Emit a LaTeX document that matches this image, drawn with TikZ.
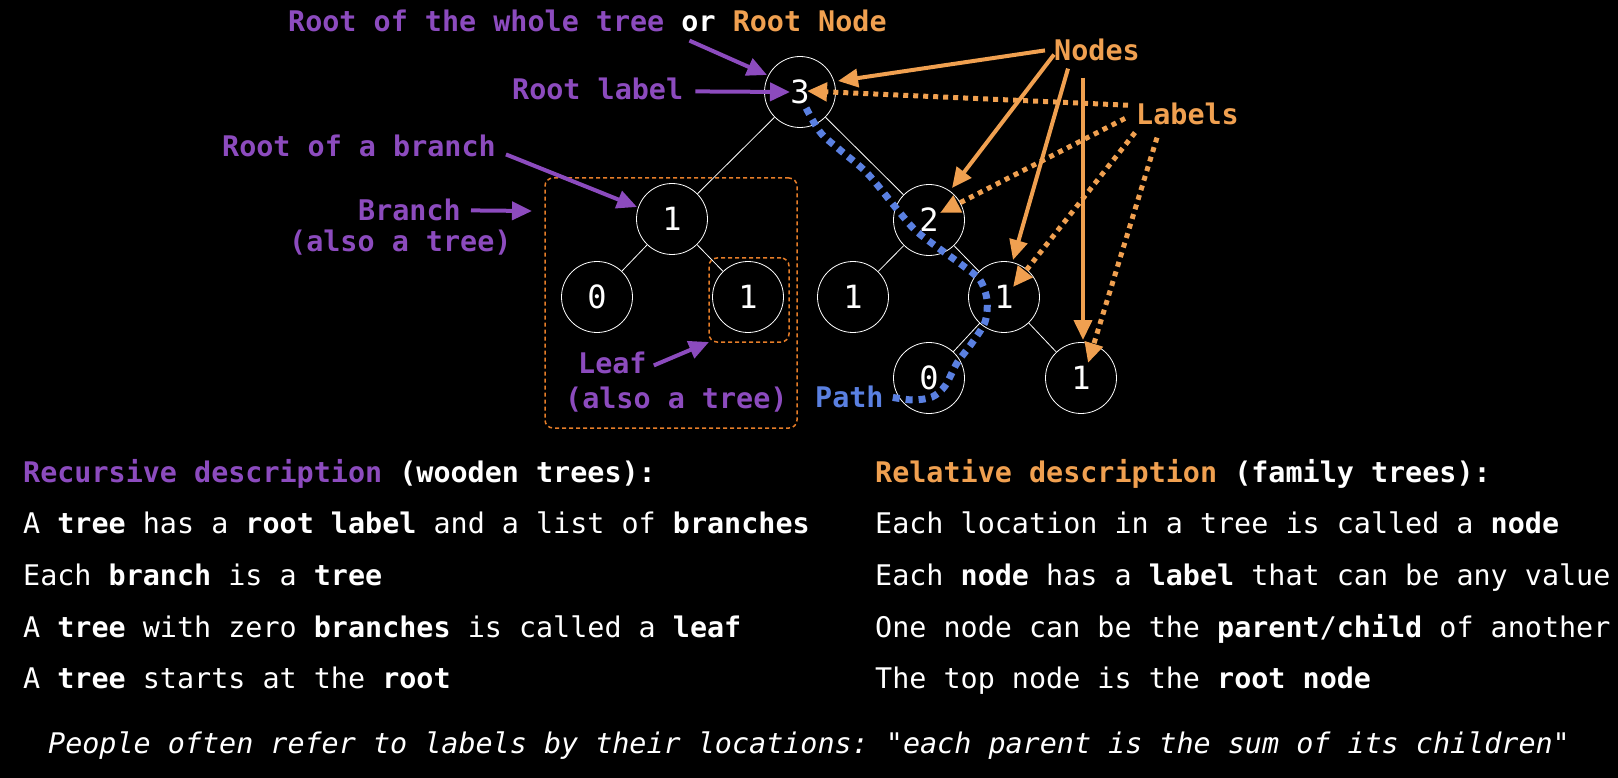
\documentclass[tikz,border=0pt]{standalone}
\usepackage{fontspec}
\setmonofont{DejaVu Sans Mono}
\usetikzlibrary{arrows.meta}
\definecolor{purp}{RGB}{140,75,190}
\definecolor{orng}{RGB}{240,160,80}
\definecolor{boxorng}{RGB}{230,125,40}
\definecolor{blu}{RGB}{90,128,225}
\tikzset{
  txt/.style={inner sep=0, text=white, anchor=base west,
    font=\ttfamily\fontsize{28.4}{34}\selectfont},
  tnode/.style={circle, draw=white, line width=0.8pt, minimum size=71pt,
    inner sep=0, text=white, font=\ttfamily\fontsize{32}{36}\selectfont},
  edge/.style={white, line width=0.8pt},
  parrow/.style={purp, line width=4pt, -{Triangle[length=20pt,width=18pt]}},
  narrow/.style={orng, line width=4pt, -{Triangle[length=20pt,width=18pt]}},
  larrow/.style={orng, line width=5pt, dash pattern=on 5pt off 5pt,
    -{Triangle[length=20pt,width=18pt]}},
  dbox/.style={draw=boxorng, line width=1.5pt, dash pattern=on 4pt off 3pt,
    rounded corners=8pt, inner sep=0, outer sep=0},
  pathline/.style={blu, line width=7pt, dash pattern=on 7pt off 6pt}
}
\begin{document}
\begin{tikzpicture}[x=1pt,y=-1pt]
\useasboundingbox (0,0) rectangle (1618,778);
\fill[black] (0,0) rectangle (1618,778);
%% the tree
\node[tnode] (r) at (800,92) {3};
\node[tnode] (b1) at (672,219) {1};
\node[tnode] (b10) at (597,297) {0};
\node[tnode] (b11) at (748,297) {1};
\node[tnode] (b2) at (929,220) {2};
\node[tnode] (b21) at (853,297) {1};
\node[tnode] (b22) at (1004,297) {1};
\node[tnode] (b220) at (929,378) {0};
\node[tnode] (b221) at (1081,378) {1};
\draw[edge] (r) -- (b1);
\draw[edge] (r) -- (b2);
\draw[edge] (b1) -- (b10);
\draw[edge] (b1) -- (b11);
\draw[edge] (b2) -- (b21);
\draw[edge] (b2) -- (b22);
\draw[edge] (b22) -- (b220);
\draw[edge] (b22) -- (b221);
%% dashed boxes
\node[dbox, minimum width=252pt, minimum height=250pt] (brbox) at (671,303) {};
\node[dbox, minimum width=80pt, minimum height=84pt] (leafbox) at (749,300) {};
%% purple labels
\node[txt, font=\ttfamily\bfseries\fontsize{28.4}{34}\selectfont] (title) at (288,32)
  {{\color{purp}Root of the whole tree} or {\color{orng}Root Node}};
\node[txt, text=purp, font=\ttfamily\bfseries\fontsize{28.4}{34}\selectfont] (rlab) at (512,100) {Root label};
\node[txt, text=purp, font=\ttfamily\bfseries\fontsize{28.4}{34}\selectfont] (rbr) at (222,157) {Root of a branch};
\node[txt, text=purp, font=\ttfamily\bfseries\fontsize{28.4}{34}\selectfont] (brn) at (358,221) {Branch};
\node[txt, text=purp, font=\ttfamily\bfseries\fontsize{28.4}{34}\selectfont] (brn2) at (289,252) {(also a tree)};
\node[txt, text=purp, font=\ttfamily\bfseries\fontsize{28.4}{34}\selectfont] (leaf) at (578,373) {Leaf};
\node[txt, text=purp, font=\ttfamily\bfseries\fontsize{28.4}{34}\selectfont] (leaf2) at (565,408) {(also a tree)};
\coordinate (brtip) at (532,211);
\draw[parrow] ([shift={(102,8)}]title.south) -- ([shift={(-33,-17)}]r.center);
\draw[parrow] ([shift={(12,2)}]rlab.east) -- ([xshift=-10pt]r.center);
\draw[parrow] ([shift={(10,8)}]rbr.east) -- ([shift={(-35,-12)}]b1.center);
\draw[parrow] ([xshift=10pt]brn.east) -- (brtip);
\draw[parrow] ([shift={(7,3)}]leaf.east) -- (leafbox.south west);
%% path
\node[txt, text=blu, font=\ttfamily\bfseries\fontsize{28.4}{34}\selectfont] (pth) at (815,407) {Path};
\draw[pathline] plot[smooth] coordinates {([shift={(9,1)}]pth.east) (913,400) (932,397)
  (945,386) (957,363) (972,343) (985,322) (987,300) (980,280) (962,265) (937,247)
  (915,230) (896,208) (867,173) (840,150) (820,132) ([shift={(4,12)}]r.center)};
%% orange labels
\node[txt, text=orng, font=\ttfamily\bfseries\fontsize{28.4}{34}\selectfont] (nodes) at (1054,61) {Nodes};
\node[txt, text=orng, font=\ttfamily\bfseries\fontsize{28.4}{34}\selectfont] (labs) at (1136,125) {Labels};
\draw[narrow] ([xshift=-9pt]nodes.west) -- ([shift={(38,-11)}]r.center);
\draw[narrow] ([yshift=7pt]nodes.south west) -- ([shift={(23,-32)}]b2.center);
\draw[narrow] ([shift={(14,7)}]nodes.south west) -- ([shift={(9,-37)}]b22.center);
\draw[narrow] ([shift={(29,16)}]nodes.south west) -- ([shift={(2,-38)}]b221.center);
\draw[larrow] ([shift={(-8,2)}]labs.north west) -- ([shift={(7,-1)}]r.center);
\draw[larrow] ([shift={(-11,4)}]labs.west) -- ([shift={(11,-7)}]b2.center);
\draw[larrow] ([shift={(-1,7)}]labs.south west) -- ([shift={(9,-10)}]b22.center);
\draw[larrow] ([shift={(21,12)}]labs.south west) -- ([shift={(7,-15)}]b221.center);
%% descriptions
\node[txt] (rec0) at (23,482) {\bfseries{\color{purp}Recursive description} (wooden trees):};
\node[txt] (rec1) at (23,533) {A \textbf{tree} has a \textbf{root label} and a list of \textbf{branches}};
\node[txt] (rec2) at (23,585) {Each \textbf{branch} is a \textbf{tree}};
\node[txt] (rec3) at (23,637) {A \textbf{tree} with zero \textbf{branches} is called a \textbf{leaf}};
\node[txt] (rec4) at (23,688) {A \textbf{tree} starts at the \textbf{root}};
\node[txt] (rel0) at (875,482) {\bfseries{\color{orng}Relative description} (family trees):};
\node[txt] (rel1) at (875,533) {Each location in a tree is called a \textbf{node}};
\node[txt] (rel2) at (875,585) {Each \textbf{node} has a \textbf{label} that can be any value};
\node[txt] (rel3) at (875,637) {One node can be the \textbf{parent}/\textbf{child} of another};
\node[txt] (rel4) at (875,688) {The top node is the \textbf{root node}};
\node[txt, font=\ttfamily\itshape\fontsize{28.4}{34}\selectfont] (note) at (48,753)
  {People often refer to labels by their locations: "each parent is the sum of its children"};
\end{tikzpicture}
\end{document}
